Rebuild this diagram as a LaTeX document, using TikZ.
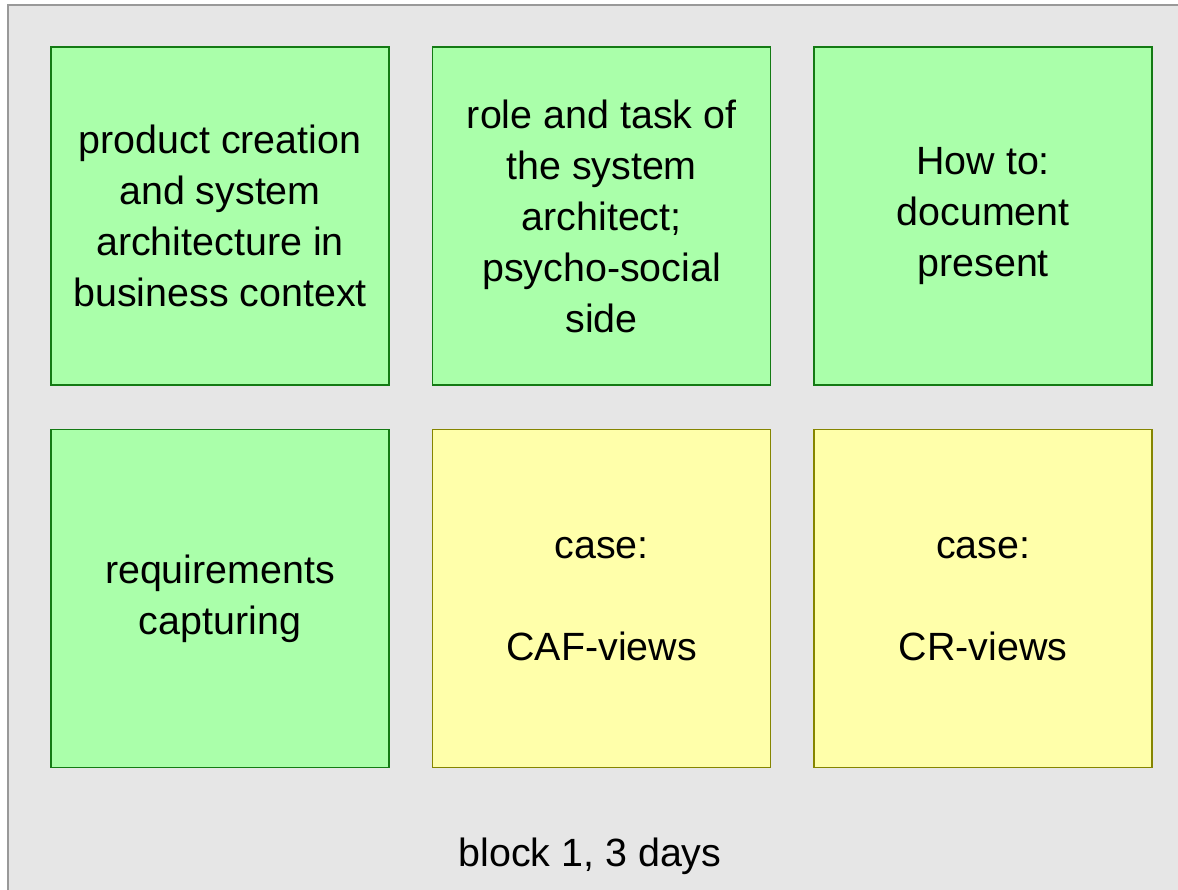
\documentclass[tikz,border=0pt]{standalone}
\usepackage{fontspec}
\setmainfont{Liberation Sans}
\usepackage{tikz}
\usetikzlibrary{positioning}

\definecolor{framefill}{HTML}{E6E6E6}
\definecolor{frameline}{HTML}{999999}
\definecolor{greenfill}{HTML}{AAFFAA}
\definecolor{greenline}{HTML}{147A14}
\definecolor{yellowfill}{HTML}{FFFFAA}
\definecolor{yellowline}{HTML}{858500}

\tikzset{
	topicbox/.style = {draw, line width = 0.8pt, minimum width = 169pt, minimum height = 169pt,
		align = center, font = \fontsize{19.7}{25.5}\selectfont, inner sep = 0pt},
	greenbox/.style = {topicbox, fill = greenfill, draw = greenline},
	yellowbox/.style = {topicbox, fill = yellowfill, draw = yellowline}
}

\begin{document}
\begin{tikzpicture}[x = 0.5pt, y = -0.5pt]
	\useasboundingbox (0,0) rectangle (1178,889);

	% frame around the block
	\draw[fill = framefill, draw = frameline, line width = 0.8pt] (8,5) rectangle (1190,900);

	% first row
	\node[greenbox] (business) at (220,216) {product creation\\and system\\architecture in\\business context};
	\node[greenbox, right = 21pt of business] (role) {role and task of\\the system\\architect;\\psycho-social\\side};
	\node[greenbox, right = 21pt of role] (howto) {How to:\\document\\present};

	% second row
	\node[greenbox, below = 21.5pt of business] (reqs) {requirements\\capturing};
	\node[yellowbox, right = 21pt of reqs] (caf) {case:\\[25.5pt]CAF-views};
	\node[yellowbox, right = 21pt of caf] (cr) {case:\\[25.5pt]CR-views};

	\node[font = \fontsize{19.7}{25.5}\selectfont] (blocklabel) at (590,856) {block 1, 3 days};
\end{tikzpicture}
\end{document}
